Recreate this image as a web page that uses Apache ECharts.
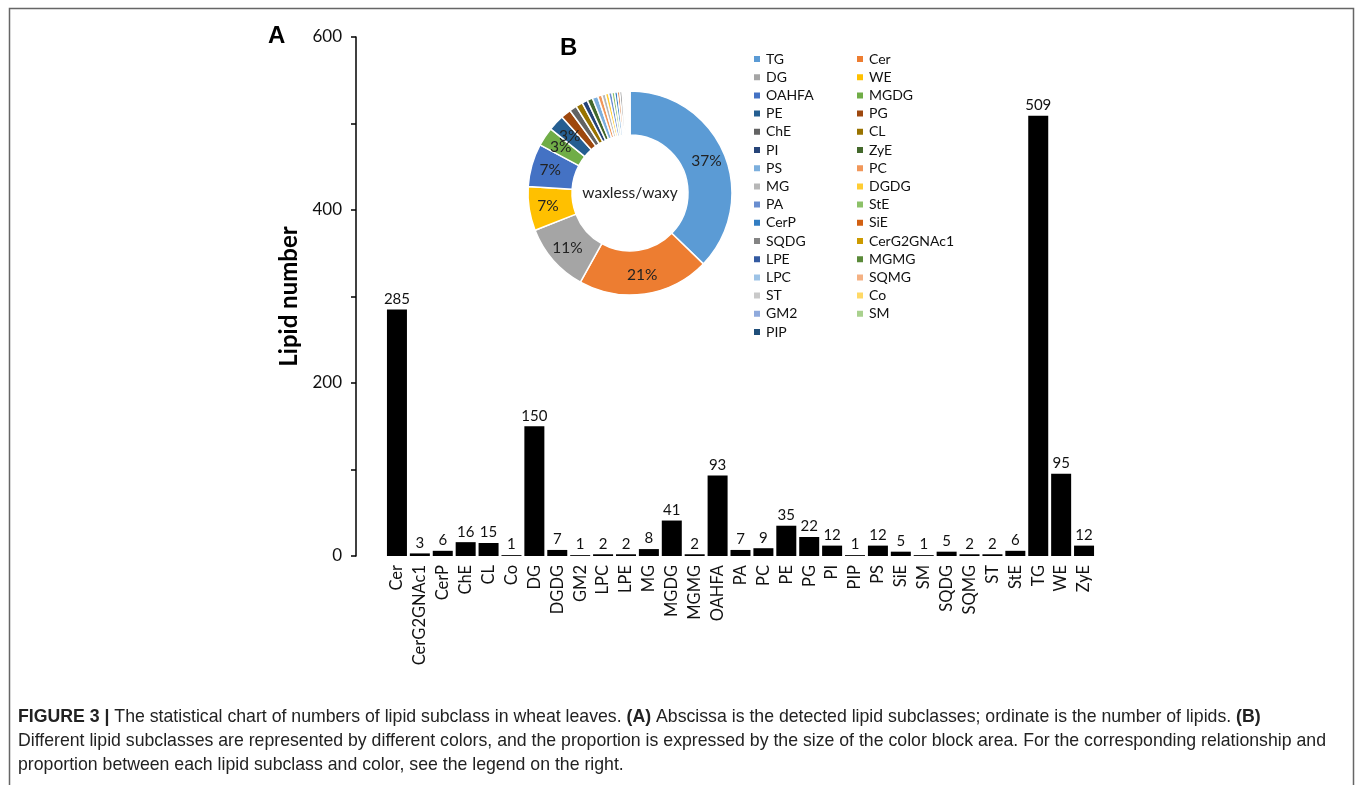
<!DOCTYPE html>
<html>
<head>
<meta charset="utf-8">
<script src="https://cdn.jsdelivr.net/npm/echarts@6/dist/echarts.min.js"></script>
<style>
  html, body { margin: 0; padding: 0; background: #fff; }
  #chart { width: 1355px; height: 785px; }
</style>
</head>
<body>
<div id="chart"></div>
<script>
// Lipid subclasses on the x axis (alphabetical) and their lipid counts
const categories = ['Cer','CerG2GNAc1','CerP','ChE','CL','Co','DG','DGDG','GM2','LPC','LPE','MG','MGDG','MGMG','OAHFA','PA','PC','PE','PG','PI','PIP','PS','SiE','SM','SQDG','SQMG','ST','StE','TG','WE','ZyE'];
const counts = [285,3,6,16,15,1,150,7,1,2,2,8,41,2,93,7,9,35,22,12,1,12,5,1,5,2,2,6,509,95,12];

// Y axis ticks
const yTicks = [0, 100, 200, 300, 400, 500, 600];
const yLabelled = [0, 200, 400, 600];

// Donut order (largest first) and slice colours
const pieOrder = ['TG','Cer','DG','WE','OAHFA','MGDG','PE','PG','ChE','CL','PI','ZyE','PS','PC','MG','DGDG','PA','StE','CerP','SiE','SQDG','CerG2GNAc1','LPE','MGMG','LPC','SQMG','ST','Co','GM2','SM','PIP'];
const pieColors = ['#5B9BD5','#ED7D31','#A5A5A5','#FFC000','#4472C4','#70AD47','#255E91','#9E480E','#636363','#997300','#264478','#43682B','#7CAFDD','#F1975A','#B7B7B7','#FFCD33','#698ED0','#8CC168','#327DC2','#D26012','#848484','#CC9A00','#335AA1','#5A8A39','#9DC3E6','#F4B183','#C9C9C9','#FFD966','#8FAADC','#A9D18E','#1F4E79'];

const pieData = pieOrder.map((name, i) => ({
  name,
  value: counts[categories.indexOf(name)],
  itemStyle: { color: pieColors[i] }
}));

// Legend is laid out in two columns, read row by row
const legendLeft = pieOrder.filter((_, i) => i % 2 === 0);
const legendRight = pieOrder.filter((_, i) => i % 2 === 1);

const FONT = 'Lato, "Open Sans", sans-serif';
const TXT = '#111';

const legendBase = {
  orient: 'vertical',
  top: 52,
  padding: 0,
  icon: 'rect',
  itemWidth: 8,
  itemHeight: 8,
  itemGap: 4.2,
  selectedMode: false,
  textStyle: { fontFamily: FONT, fontSize: 14, color: TXT, lineHeight: 14 }
};

const caption =
  '{b|FIGURE 3 |} The statistical chart of numbers of lipid subclass in wheat leaves. {b|(A)} Abscissa is the detected lipid subclasses; ordinate is the number of lipids. {b|(B)}\n' +
  'Different lipid subclasses are represented by different colors, and the proportion is expressed by the size of the color block area. For the corresponding relationship and\n' +
  'proportion between each lipid subclass and color, see the legend on the right.';

const CAP_FONT = '17.7px "Liberation Sans", Arial, sans-serif';

const chart = echarts.init(document.getElementById('chart'), null, { renderer: 'canvas' });

chart.setOption({
  backgroundColor: '#fff',
  animation: false,
  grid: { left: 385.5, right: 259.5, top: 37, bottom: 229, containLabel: false },
  xAxis: {
    type: 'category',
    data: categories,
    axisLine: { show: false },
    axisTick: { show: false },
    axisLabel: {
      rotate: 90,
      interval: 0,
      margin: 9,
      fontFamily: FONT,
      fontSize: 16.5,
      color: TXT
    }
  },
  yAxis: {
    type: 'value',
    min: yTicks[0],
    max: yTicks[yTicks.length - 1],
    interval: 100,
    offset: 29.5,
    name: 'Lipid number',
    nameLocation: 'middle',
    nameGap: 54,
    nameTextStyle: { fontFamily: FONT, fontSize: 24, fontWeight: 'bold', color: '#000' },
    splitLine: { show: false },
    axisLine: { show: true, lineStyle: { color: '#000', width: 1.5 } },
    axisTick: { show: true, length: 5, lineStyle: { color: '#000', width: 1.5 } },
    axisLabel: {
      margin: 14,
      fontFamily: FONT,
      fontSize: 17,
      color: TXT,
      formatter: v => (yLabelled.includes(v) ? String(v) : '')
    }
  },
  legend: [
    Object.assign({}, legendBase, { left: 752, data: legendLeft }),
    Object.assign({}, legendBase, { left: 855, data: legendRight })
  ],
  series: [
    {
      type: 'bar',
      data: counts,
      barWidth: 20,
      itemStyle: { color: '#000' },
      label: {
        show: true,
        position: 'top',
        distance: 3,
        fontFamily: FONT,
        fontSize: 15,
        color: TXT
      }
    },
    {
      type: 'pie',
      center: [630, 193],
      radius: [58, 102],
      startAngle: 90,
      clockwise: true,
      avoidLabelOverlap: false,
      labelLayout: { hideOverlap: false },
      itemStyle: { borderColor: '#fff', borderWidth: 1.5 },
      label: {
        show: true,
        position: 'inside',
        fontFamily: FONT,
        fontSize: 15.5,
        color: '#222',
        formatter: p => (Math.round(p.percent) >= 3 ? Math.round(p.percent) + '%' : '')
      },
      labelLine: { show: false },
      emphasis: { disabled: true },
      data: pieData
    }
  ],
  graphic: [
    {
      type: 'rect',
      shape: { x: 9.5, y: 8.5, width: 1344, height: 800 },
      style: { fill: 'none', stroke: '#666', lineWidth: 1.5 },
      silent: true
    },
    {
      type: 'text',
      left: 268, top: 24,
      style: { text: 'A', font: 'bold 24px "Liberation Sans", Arial, sans-serif', fill: '#000' }
    },
    {
      type: 'text',
      left: 560, top: 36,
      style: { text: 'B', font: 'bold 24px "Liberation Sans", Arial, sans-serif', fill: '#000' }
    },
    {
      type: 'text',
      x: 630, y: 193,
      style: {
        text: 'waxless/waxy',
        font: '15.5px ' + FONT,
        fill: '#222',
        align: 'center',
        verticalAlign: 'middle'
      }
    },
    {
      type: 'text',
      left: 18, top: 705,
      style: {
        text: caption,
        font: CAP_FONT,
        fill: '#222',
        lineHeight: 24,
        rich: {
          b: { font: 'bold ' + CAP_FONT, fill: '#222', lineHeight: 24 }
        }
      }
    }
  ]
});
</script>
</body>
</html>
